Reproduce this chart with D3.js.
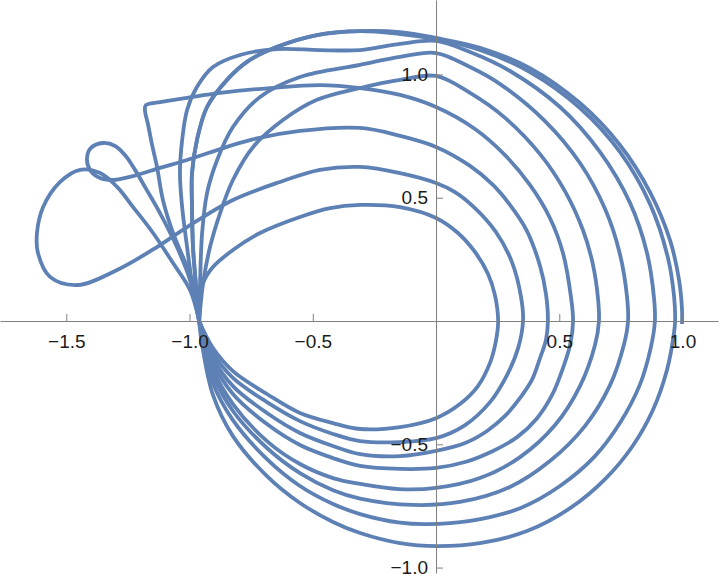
<!DOCTYPE html>
<html>
<head>
<meta charset="utf-8">
<script src="https://cdn.jsdelivr.net/npm/d3@7"></script>
<style>
  html, body { margin: 0; padding: 0; background: #fff; }
  svg { display: block; }
  .tick text { font-family: "Liberation Sans", Arial, sans-serif; font-size: 19px; fill: #1a1a1a; }
</style>
</head>
<body>
<div id="chart"></div>
<script>
// traced curves, data units, each one runs from the common point down, round and back
var curve1 = [[-0.961,0],[-0.905,-0.110],[-0.824,-0.203],[-0.686,-0.296],[-0.552,-0.373],[-0.418,-0.414],[-0.308,-0.438],[-0.146,-0.430],[0,-0.394],[0.097,-0.337],[0.170,-0.264],[0.219,-0.170],[0.243,-0.081],[0.252,0],[0.239,0.105],[0.211,0.191],[0.158,0.280],[0.089,0.357],[0,0.418],[-0.146,0.462],[-0.308,0.471],[-0.430,0.458],[-0.552,0.422],[-0.714,0.357],[-0.824,0.288],[-0.905,0.219],[-0.945,0.154],[-0.957,0.077],[-0.961,0]];
var curve2 = [[-0.961,0],[-0.905,-0.130],[-0.824,-0.231],[-0.686,-0.329],[-0.552,-0.406],[-0.418,-0.458],[-0.308,-0.487],[-0.146,-0.491],[0,-0.475],[0.118,-0.422],[0.219,-0.329],[0.288,-0.219],[0.333,-0.110],[0.353,0],[0.345,0.097],[0.308,0.239],[0.243,0.361],[0.158,0.458],[0.077,0.523],[0,0.560],[-0.146,0.600],[-0.308,0.625],[-0.471,0.613],[-0.633,0.564],[-0.824,0.491],[-1.010,0.381],[-1.132,0.300],[-1.294,0.207],[-1.456,0.146],[-1.566,0.179],[-1.615,0.276],[-1.619,0.357],[-1.594,0.462],[-1.525,0.564],[-1.444,0.613],[-1.363,0.600],[-1.294,0.544],[-1.229,0.462],[-1.148,0.357],[-1.067,0.235],[-0.998,0.126],[-0.961,0]];
var curve3 = [[-0.961,0],[-0.905,-0.150],[-0.824,-0.264],[-0.686,-0.373],[-0.552,-0.454],[-0.418,-0.507],[-0.308,-0.540],[-0.146,-0.548],[0,-0.527],[0.118,-0.495],[0.207,-0.446],[0.280,-0.385],[0.341,-0.312],[0.389,-0.239],[0.422,-0.150],[0.446,-0.077],[0.454,0],[0.446,0.110],[0.422,0.223],[0.369,0.365],[0.300,0.471],[0.231,0.552],[0.138,0.629],[0,0.706],[-0.146,0.751],[-0.308,0.783],[-0.552,0.771],[-0.755,0.734],[-1.010,0.653],[-1.120,0.621],[-1.229,0.588],[-1.310,0.572],[-1.363,0.580],[-1.404,0.613],[-1.416,0.661],[-1.400,0.702],[-1.351,0.722],[-1.302,0.710],[-1.262,0.673],[-1.221,0.613],[-1.181,0.544],[-1.120,0.438],[-1.051,0.300],[-0.998,0.166],[-0.961,0]];
var curve4 = [[-0.961,0],[-0.905,-0.170],[-0.824,-0.296],[-0.686,-0.418],[-0.552,-0.503],[-0.418,-0.556],[-0.308,-0.588],[-0.146,-0.600],[0,-0.596],[0.118,-0.572],[0.231,-0.527],[0.329,-0.471],[0.410,-0.394],[0.471,-0.300],[0.515,-0.191],[0.544,-0.097],[0.556,0],[0.548,0.093],[0.515,0.276],[0.462,0.418],[0.381,0.552],[0.280,0.673],[0.158,0.779],[0,0.868],[-0.146,0.917],[-0.308,0.945],[-0.471,0.957],[-0.673,0.945],[-0.876,0.925],[-1.010,0.905],[-1.120,0.888],[-1.177,0.876],[-1.181,0.856],[-1.168,0.795],[-1.152,0.714],[-1.132,0.625],[-1.108,0.491],[-1.067,0.357],[-1.010,0.219],[-0.970,0.105],[-0.961,0]];
var curve5 = [[-0.961,0],[-0.905,-0.195],[-0.824,-0.337],[-0.686,-0.487],[-0.552,-0.580],[-0.418,-0.637],[-0.308,-0.661],[-0.150,-0.682],[0,-0.677],[0.178,-0.637],[0.341,-0.552],[0.483,-0.422],[0.584,-0.264],[0.645,-0.097],[0.661,0],[0.657,0.093],[0.637,0.227],[0.596,0.369],[0.523,0.527],[0.422,0.677],[0.280,0.824],[0.138,0.925],[0,0.994],[-0.146,0.978],[-0.308,0.945],[-0.483,0.897],[-0.621,0.815],[-0.742,0.706],[-0.824,0.572],[-0.876,0.438],[-0.917,0.300],[-0.945,0.154],[-0.961,0]];
var curve6 = [[-0.961,0],[-0.905,-0.219],[-0.824,-0.365],[-0.686,-0.515],[-0.552,-0.617],[-0.418,-0.686],[-0.308,-0.720],[-0.093,-0.746],[0.097,-0.734],[0.300,-0.673],[0.462,-0.568],[0.604,-0.426],[0.706,-0.260],[0.763,-0.093],[0.779,0],[0.775,0.097],[0.746,0.272],[0.686,0.454],[0.584,0.641],[0.442,0.811],[0.260,0.961],[0.138,1.030],[0,1.087],[-0.146,1.071],[-0.308,1.039],[-0.552,0.990],[-0.714,0.909],[-0.824,0.787],[-0.888,0.653],[-0.929,0.519],[-0.949,0.357],[-0.957,0.166],[-0.961,0]];
var curve7 = [[-0.961,0],[-0.905,-0.252],[-0.824,-0.402],[-0.686,-0.560],[-0.552,-0.669],[-0.418,-0.742],[-0.308,-0.783],[-0.146,-0.818],[-0.037,-0.824],[0.138,-0.811],[0.341,-0.759],[0.503,-0.669],[0.645,-0.548],[0.746,-0.414],[0.828,-0.256],[0.872,-0.105],[0.888,0],[0.884,0.097],[0.856,0.276],[0.787,0.479],[0.665,0.686],[0.503,0.868],[0.300,1.014],[0.138,1.091],[0,1.136],[-0.146,1.124],[-0.308,1.099],[-0.471,1.099],[-0.645,1.103],[-0.795,1.079],[-0.905,1.030],[-0.970,0.949],[-1.010,0.856],[-1.030,0.734],[-1.039,0.600],[-1.030,0.462],[-1.010,0.300],[-0.990,0.154],[-0.961,0]];
var curve8 = [[-0.961,0],[-0.949,-0.097],[-0.905,-0.300],[-0.824,-0.467],[-0.686,-0.629],[-0.552,-0.738],[-0.418,-0.815],[-0.308,-0.860],[-0.146,-0.901],[0.004,-0.913],[0.178,-0.901],[0.369,-0.852],[0.544,-0.759],[0.686,-0.641],[0.795,-0.511],[0.880,-0.361],[0.937,-0.199],[0.966,-0.045],[0.970,0],[0.966,0.097],[0.941,0.256],[0.868,0.475],[0.746,0.686],[0.584,0.864],[0.381,1.010],[0.178,1.099],[0,1.144],[-0.146,1.164],[-0.308,1.176],[-0.483,1.160],[-0.645,1.112],[-0.767,1.051],[-0.848,0.978],[-0.929,0.868],[-0.970,0.734],[-0.990,0.600],[-0.990,0.462],[-0.986,0.300],[-0.974,0.146],[-0.961,0]];
// open piece that ends on the x axis near 1.0
var curve9 = [[-0.961,0],[-0.974,0.146],[-0.986,0.300],[-0.990,0.462],[-0.990,0.600],[-0.970,0.734],[-0.929,0.868],[-0.848,0.978],[-0.767,1.051],[-0.645,1.112],[-0.483,1.160],[-0.308,1.176],[-0.146,1.172],[0,1.148],[0.178,1.108],[0.381,1.026],[0.584,0.884],[0.746,0.714],[0.868,0.523],[0.949,0.329],[0.986,0.166],[0.998,0.045],[0.998,-0.012]];
var curves = [curve1, curve2, curve3, curve4, curve5, curve6, curve7, curve8, curve9];

var xMajor = [-1.5, -1.0, -0.5, 0.5, 1.0];
var yMajor = [-1.0, -0.5, 0.5, 1.0];
var xMinor = [-1.7,-1.6,-1.4,-1.3,-1.2,-1.1,-0.9,-0.8,-0.7,-0.6,-0.4,-0.3,-0.2,-0.1,0.1,0.2,0.3,0.4,0.6,0.7,0.8,0.9,1.1];
var yMinor = [-0.9,-0.8,-0.7,-0.6,-0.4,-0.3,-0.2,-0.1,0.1,0.2,0.3,0.4,0.6,0.7,0.8,0.9,1.1,1.2,1.3];

var width = 720, height = 582;

var svg = d3.select('#chart')
    .append('svg')
    .attr('width', width)
    .attr('height', height);

var x = d3.scaleLinear().domain([-1.769, 1.144]).range([0, 718]);
var y = d3.scaleLinear().domain([-1.022, 1.302]).range([573, 0]);

var line = d3.line()
    .x(function(d) { return x(d[0]); })
    .y(function(d) { return y(d[1]); })
    .curve(d3.curveCatmullRom.alpha(0.5));

svg.append('g')
    .selectAll('path')
    .data(curves)
    .enter()
    .append('path')
    .attr('d', line)
    .style('fill', 'none')
    .style('stroke', '#5e81b5')
    .style('stroke-width', 3.8)
    .style('stroke-linejoin', 'round')
    .style('stroke-linecap', 'butt');

var fmt = d3.format('.1f');
var axisColor = '#808080';

// x axis: ticks point up, labels below
var gx = svg.append('g').attr('transform', 'translate(0,' + y(0) + ')');
gx.call(d3.axisBottom(x).tickValues(xMinor).tickSize(-4).tickSizeOuter(0).tickFormat(''));
gx.call(d3.axisBottom(x).tickValues(xMajor).tickSize(-7).tickSizeOuter(0).tickPadding(13).tickFormat(fmt));

// y axis: ticks point right, labels on the left
var gy = svg.append('g').attr('transform', 'translate(' + x(0) + ',0)');
gy.call(d3.axisLeft(y).tickValues(yMinor).tickSize(-4).tickSizeOuter(0).tickFormat(''));
gy.call(d3.axisLeft(y).tickValues(yMajor).tickSize(-7).tickSizeOuter(0).tickPadding(8).tickFormat(fmt));

svg.selectAll('.domain').style('stroke', axisColor).style('stroke-width', 1);
svg.selectAll('.tick line').style('stroke', axisColor).style('stroke-width', 1);
</script>
</body>
</html>
